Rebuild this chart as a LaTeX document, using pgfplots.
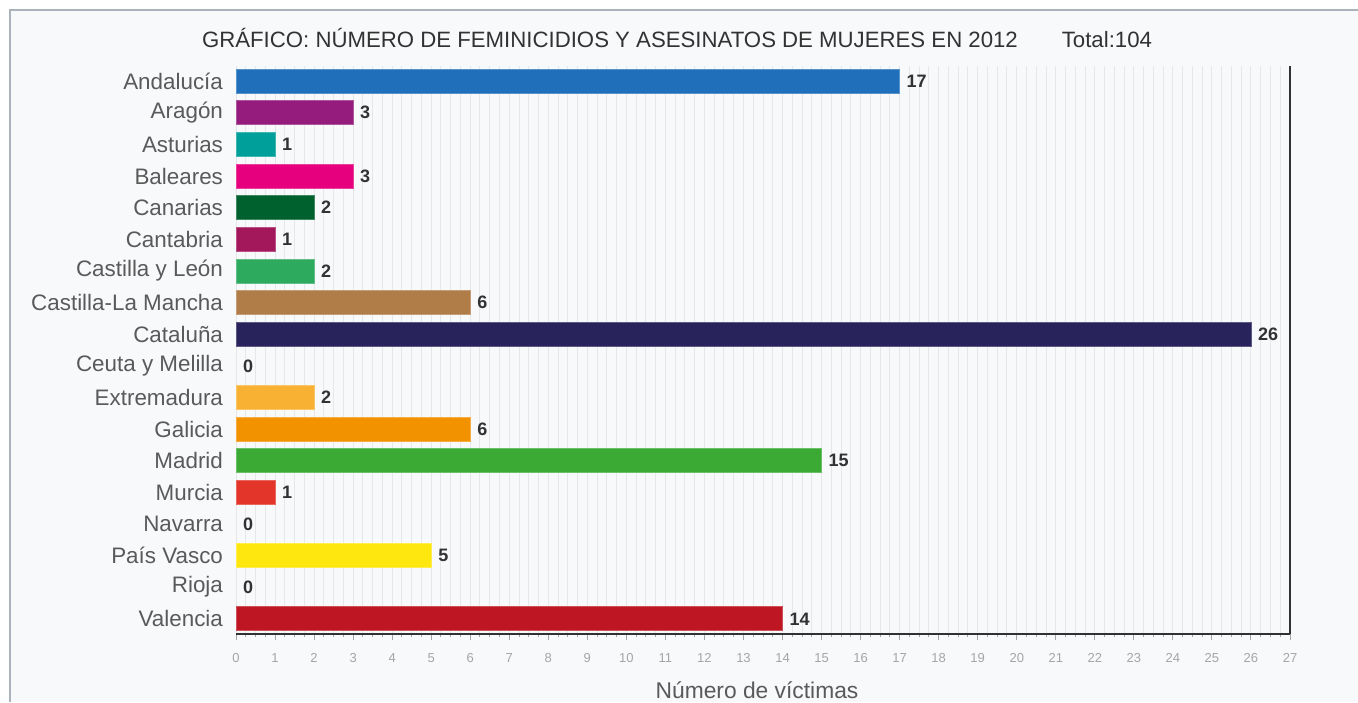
\documentclass[border=0pt]{standalone}
\usepackage{fontspec}
\setmainfont{Liberation Sans}
\usepackage{pgfplots}
\pgfplotsset{compat=1.18}
\definecolor{bgc}{RGB}{248,249,251}
\definecolor{framec}{RGB}{170,178,188}
\definecolor{gridc}{RGB}{230,231,234}
\definecolor{labc}{RGB}{90,90,90}
\definecolor{valc}{RGB}{50,50,50}
\definecolor{tickc}{RGB}{165,165,165}
\definecolor{c1}{RGB}{31,111,186}
\definecolor{c2}{RGB}{149,28,125}
\definecolor{c3}{RGB}{0,159,154}
\definecolor{c4}{RGB}{230,0,126}
\definecolor{c5}{RGB}{0,97,46}
\definecolor{c6}{RGB}{162,24,91}
\definecolor{c7}{RGB}{46,170,95}
\definecolor{c8}{RGB}{176,125,72}
\definecolor{c9}{RGB}{41,35,92}
\definecolor{c11}{RGB}{248,177,51}
\definecolor{c12}{RGB}{243,146,0}
\definecolor{c13}{RGB}{58,170,53}
\definecolor{c14}{RGB}{227,53,42}
\definecolor{c16}{RGB}{253,231,15}
\definecolor{c18}{RGB}{190,22,34}
\begin{document}
\begin{tikzpicture}
\path[use as bounding box] (0,0) rectangle (679pt,351pt);
\fill[bgc] (5pt,0) rectangle (679pt,346pt);
\draw[framec, line width=1pt] (5pt,0) -- (5pt,346pt) -- (679pt,346pt);
\node[font=\fontsize{11.1}{13}\selectfont, text=valc] at (338.5pt,332pt)
  {GRÁFICO: NÚMERO DE FEMINICIDIOS Y ASESINATOS DE MUJERES EN 2012\hspace{22pt}Total:104};
\begin{axis}[
  at={(118pt,34pt)}, anchor=south west,
  scale only axis, width=527pt, height=284pt,
  xmin=0, xmax=27, xtick={0,...,27},
  minor x tick num=3,
  ymin=-0.48, ymax=17.48, y dir=reverse,
  ytick={0,...,17},
  yticklabels={Andalucía,Aragón,Asturias,Baleares,Canarias,Cantabria,Castilla y León,Castilla-La Mancha,Cataluña,Ceuta y Melilla,Extremadura,Galicia,Madrid,Murcia,Navarra,País Vasco,Rioja,Valencia},
  axis x line*=bottom, axis y line*=left,
  y axis line style={draw=none},
  x axis line style={-, line width=1pt, valc},
  xmajorgrids, xminorgrids,
  major grid style={gridc, line width=0.5pt},
  minor grid style={gridc, line width=0.5pt},
  tick align=outside,
  major tick length=3pt, minor tick length=1.5pt,
  every tick/.style={tickc, line width=0.5pt},
  ytick style={draw=none},
  /pgf/number format/assume math mode=true,
  xticklabel style={font=\fontsize{6.5}{8}\selectfont, text=tickc, anchor=center, yshift=-9pt},
  yticklabel style={font=\fontsize{11.2}{13}\selectfont, text=labc, anchor=east, xshift=0pt},
  xlabel={Número de víctimas},
  x label style={at={(axis description cs:0.5,0)}, anchor=center, yshift=-28pt, xshift=-3pt, font=\fontsize{11.4}{13}\selectfont, text=labc},
  clip=false,
]
\draw[valc, line width=1pt] (rel axis cs:1,0) -- (rel axis cs:1,1);
\addplot[xbar, bar width=0.76, bar shift=0pt, fill=c1, draw=c1!75!white] coordinates {(17,0)};
\addplot[xbar, bar width=0.76, bar shift=0pt, fill=c2, draw=c2!75!white] coordinates {(3,1)};
\addplot[xbar, bar width=0.76, bar shift=0pt, fill=c3, draw=c3!75!white] coordinates {(1,2)};
\addplot[xbar, bar width=0.76, bar shift=0pt, fill=c4, draw=c4!75!white] coordinates {(3,3)};
\addplot[xbar, bar width=0.76, bar shift=0pt, fill=c5, draw=c5!75!white] coordinates {(2,4)};
\addplot[xbar, bar width=0.76, bar shift=0pt, fill=c6, draw=c6!75!white] coordinates {(1,5)};
\addplot[xbar, bar width=0.76, bar shift=0pt, fill=c7, draw=c7!75!white] coordinates {(2,6)};
\addplot[xbar, bar width=0.76, bar shift=0pt, fill=c8, draw=c8!75!white] coordinates {(6,7)};
\addplot[xbar, bar width=0.76, bar shift=0pt, fill=c9, draw=c9!75!white] coordinates {(26,8)};
\addplot[xbar, bar width=0.76, bar shift=0pt, fill=c11, draw=c11!75!white] coordinates {(2,10)};
\addplot[xbar, bar width=0.76, bar shift=0pt, fill=c12, draw=c12!75!white] coordinates {(6,11)};
\addplot[xbar, bar width=0.76, bar shift=0pt, fill=c13, draw=c13!75!white] coordinates {(15,12)};
\addplot[xbar, bar width=0.76, bar shift=0pt, fill=c14, draw=c14!75!white] coordinates {(1,13)};
\addplot[xbar, bar width=0.76, bar shift=0pt, fill=c16, draw=c16!75!white] coordinates {(5,15)};
\addplot[xbar, bar width=0.76, bar shift=0pt, fill=c18, draw=c18!75!white] coordinates {(14,17)};
\addplot[xbar, bar width=0.76, bar shift=0pt, draw=none, fill=none,
  nodes near coords,
  nodes near coords style={font=\bfseries\fontsize{9}{10}\selectfont, text=valc, anchor=west, xshift=0pt},
  /pgf/number format/assume math mode=true]
  coordinates {(17,0) (3,1) (1,2) (3,3) (2,4) (1,5) (2,6) (6,7) (26,8) (0,9) (2,10) (6,11) (15,12) (1,13) (0,14) (5,15) (0,16) (14,17)};
\end{axis}
\end{tikzpicture}
\end{document}
